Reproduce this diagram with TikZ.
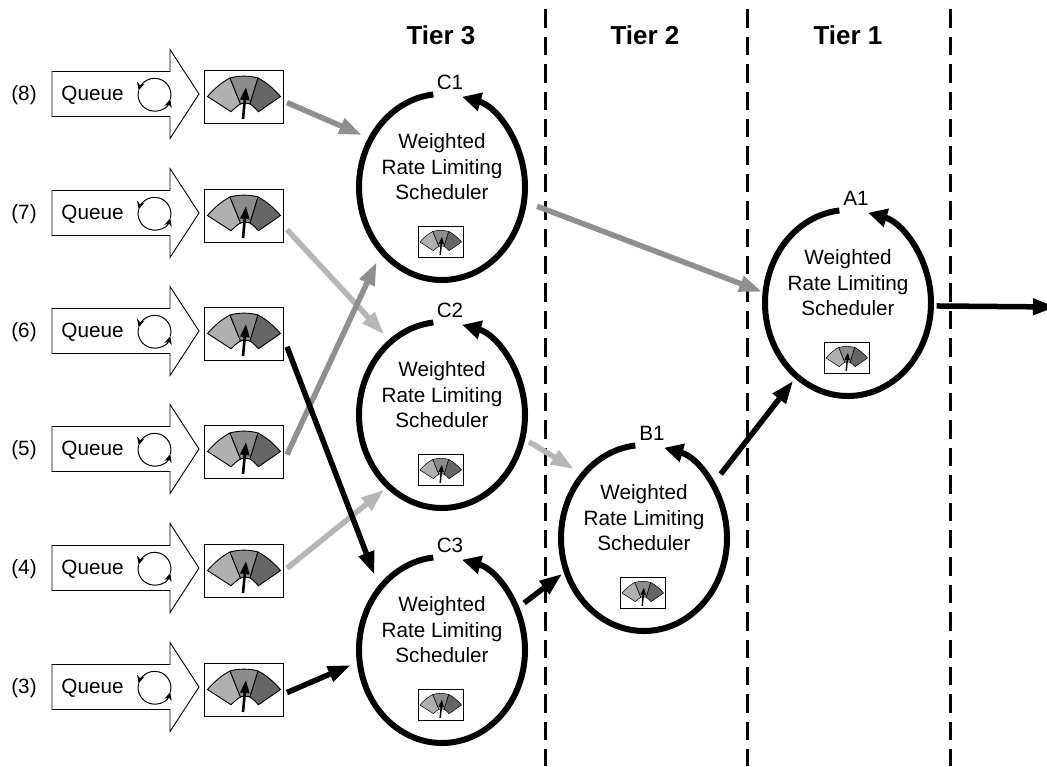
\documentclass[tikz,border=0pt]{standalone}
\usepackage{fontspec}
\setmainfont{Liberation Sans}
\usetikzlibrary{arrows.meta,shapes.geometric,calc}
\definecolor{gl}{HTML}{B0B0B0}
\definecolor{gm}{HTML}{8C8C8C}
\definecolor{gd}{HTML}{666666}
\definecolor{al}{HTML}{B6B6B6}
\definecolor{am}{HTML}{8F8F8F}
\tikzset{
  x=1pt,y=-1pt,
  lbl/.style={font=\fontsize{20.7}{25.5}\selectfont,inner sep=0pt,align=center},
  tier/.style={font=\fontsize{26}{30}\selectfont\bfseries,inner sep=0pt},
  divider/.style={line width=3pt,dash pattern=on 18.4pt off 9pt},
  ring/.style={line width=6pt,-{Triangle[length=19pt,width=18pt]}},
  link/.style={line width=5.5pt,-{Triangle[length=23pt,width=15.5pt]}},
  hub/.style={ellipse,minimum width=168pt,minimum height=188pt,inner sep=0pt,outer sep=0pt},
  gbox/.style={draw,fill=white,line width=.9pt,rectangle,inner sep=0pt,outer sep=0pt},
  cyc/.style={line width=1pt,-{Stealth[length=8pt,width=7.5pt]}},
}
% \gaugeat{name}{x}{y}{scale}
\newcommand{\gaugeat}[4]{%
  \node[gbox,minimum width=#4*79pt,minimum height=#4*53pt,outer sep=#4*4pt] (#1) at (#2,#3) {};
  \begin{scope}[shift={(#2,#3)},x=#4pt,y=-#4pt,line width=#4*.9pt]
    \filldraw[fill=gl] (-36,0) .. controls (-29,-8) and (-22,-14) .. (-13.5,-18.5) -- (-3,7.5) .. controls (-6,9) and (-9,12) .. (-12.5,15.2) -- cycle;
    \filldraw[fill=gm] (-13.5,-18.5) .. controls (-5,-21) and (6,-21) .. (14.5,-18.5) -- (6.5,7.5) .. controls (4,6.5) and (-1,6.5) .. (-3,7.5) -- cycle;
    \filldraw[fill=gd] (14.5,-18.5) .. controls (23,-14) and (30,-8) .. (37,0) -- (15,15.2) .. controls (12,12) and (9,9) .. (6.5,7.5) -- cycle;
    \draw[line width=#4*2.6pt,-{Triangle[length=#4*13pt,width=#4*9pt]}] (-0.5,22.5) -- (2.5,-9.5);
  \end{scope}}
% \rowat{num}{y}
\newcommand{\rowat}[2]{%
  \node[lbl] (n#1) at (24,#2+1.5) {(#1)};
  \draw[line width=.9pt,fill=white] (52,#2-22.5) -- (170,#2-22.5) -- (170,#2-44.5) -- (199,#2) -- (170,#2+44.5) -- (170,#2+22.5) -- (52,#2+22.5) -- cycle;
  \node[lbl] (q#1) at (92.5,#2+1) {Queue};
  \draw[cyc] ([shift={(195:16.4)}]154.5,#2+.7) arc[start angle=195,end angle=16,radius=16.4];
  \draw[cyc] ([shift={(16:16.4)}]154.5,#2+.7) arc[start angle=16,end angle=-165,radius=16.4];
  \gaugeat{g#1}{243.5}{#2+2.5}{1}}
% \hubat{name}{label}{x}{y}
\newcommand{\hubat}[4]{%
  \node[hub] (#1) at (#3,#4) {};
  \node[lbl] (#1t) at (#3,#4-20) {Weighted\\Rate Limiting\\Scheduler};
  \node[lbl] (#1l) at (#3+8,#4-105) {#2};
  \draw[ring] ([shift={(-96:83 and 93)}]#3,#4) arc[start angle=-96,end angle=-436,x radius=83,y radius=93];
  \gaugeat{#1g}{#3-1.5}{#4+55}{.57}}
\begin{document}
\begin{tikzpicture}
\useasboundingbox (0,0) rectangle (1047,766);
\fill[white] (0,0) rectangle (1047,766);
\foreach \xx/\nm in {545/d1,747.5/d2,950/d3}{
  \coordinate (\nm a) at (\xx,9.4);
  \coordinate (\nm b) at (\xx,766);
  \draw[divider] (\nm a) -- (\nm b);
}
\node[tier] (t3) at (441,35) {Tier 3};
\node[tier] (t2) at (645,35) {Tier 2};
\node[tier] (t1) at (848,35) {Tier 1};
\rowat{8}{94}
\rowat{7}{213}
\rowat{6}{331}
\rowat{5}{449}
\rowat{4}{568}
\rowat{3}{687}
\hubat{c1}{C1}{442}{187}
\hubat{c2}{C2}{442}{415}
\hubat{c3}{C3}{442}{650}
\hubat{b1}{B1}{644}{538}
\hubat{a1}{A1}{848}{303}
\coordinate (out) at (1056,307);
\draw[link,color=am,shorten >=8.6pt] (g8.-8.5) -- (c1.146.7);
\draw[link,color=al,shorten >=9pt] (g7.-18.4) -- (c2.125.6);
\draw[link,color=am,shorten >=11pt] (g5.-4.6) -- (c1.-133.8);
\draw[link,color=al,shorten >=4.7pt] (g4.3.3) -- (c2.-127.8);
\draw[link,color=black,shorten >=13.5pt] (g6.-17.3) -- (c3.135.3);
\draw[link,color=black,shorten >=8.4pt] (g3.-4) -- (c3.-172.1);
\draw[link,color=am,shorten <=13pt,shorten >=2.5pt] (c1.-10.5) -- (a1.173.8);
\draw[link,color=al,shorten <=6.6pt,shorten >=9.8pt] (c2.-16) -- (b1.134);
\draw[link,color=black,shorten <=8.7pt,shorten >=3.9pt] (c3.29.2) -- (b1.-157.3);
\draw[link,color=black,shorten <=12.8pt,shorten >=4.7pt] (b1.38.1) -- (a1.-125);
\draw[link,color=black,shorten <=4.7pt] (a1.-2.7) -- (out);
\end{tikzpicture}
\end{document}
